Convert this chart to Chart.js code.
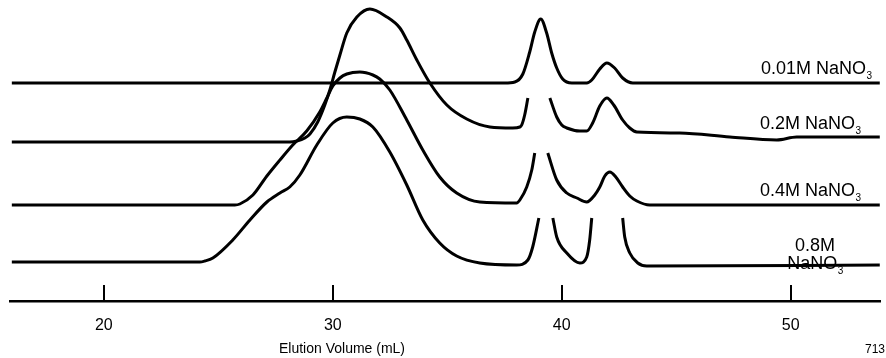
<!DOCTYPE html>
<html>
<head>
<meta charset="utf-8">
<script src="https://cdn.jsdelivr.net/npm/chart.js@4.4.1/dist/chart.umd.min.js"></script>
<style>
  html, body { margin: 0; padding: 0; background: #fff; }
</style>
</head>
<body>
<canvas id="gpc" width="886" height="358"></canvas>
<script>
// elution volume (mL) and detector response (arbitrary, stacked offsets)
// null = trace runs off the top of its lane (peak clipped)
const vol001  = [15.98, 37.51, 37.95, 38.30, 38.60, 38.82, 39.08, 39.34, 39.56, 39.78, 40.04, 40.44, 41.09, 41.31, 41.66, 41.97, 42.31, 42.66, 43.10, 43.62, 53.89];
const resp001 = [21.8, 21.8, 21.9, 22.7, 24.9, 26.9, 28.2, 26.8, 24.8, 23.3, 22.2, 21.8, 21.8, 22.1, 23.2, 23.8, 23.3, 22.3, 21.8, 21.8, 21.8];

const vol02  = [15.98, 28.12, 28.43, 28.78, 29.00, 29.34, 29.65, 29.87, 30.09, 30.31, 30.61, 31.05, 31.62, 32.36, 32.93, 33.23, 33.67, 34.24, 34.98, 35.85, 36.86, 37.86, 38.17, 38.25, 38.38, 38.52, 38.90, 39.48, 39.78, 40.00, 40.22, 40.79, 41.09, 41.35, 41.66, 41.97, 42.27, 42.66, 42.97, 43.28, 45.15, 47.34, 49.39, 50.26, 53.89];
const resp02 = [15.9, 15.9, 16.0, 16.3, 16.7, 17.9, 19.6, 21.1, 22.9, 24.6, 26.8, 28.4, 29.2, 28.4, 27.3, 26.1, 24.1, 21.8, 19.6, 18.2, 17.4, 17.3, 17.4, 17.6, 18.6, 20.3, null, 20.3, 18.4, 17.6, 17.3, 17.0, 17.0, 17.8, 19.5, 20.3, 19.6, 18.1, 17.3, 16.9, 16.8, 16.4, 16.1, 16.4, 16.4];

const vol04  = [15.98, 25.72, 25.94, 26.51, 27.12, 27.69, 28.25, 28.86, 29.43, 29.74, 30.00, 30.31, 30.61, 31.18, 31.75, 32.05, 32.49, 33.23, 33.93, 34.67, 35.41, 36.42, 38.03, 38.17, 38.47, 38.69, 38.82, 39.10, 39.39, 39.78, 40.22, 40.66, 41.09, 41.44, 41.66, 41.88, 42.10, 42.36, 42.66, 42.97, 43.28, 43.84, 53.89];
const resp04 = [9.6, 9.6, 9.7, 10.6, 12.5, 14.1, 15.6, 17.0, 18.9, 20.3, 21.5, 22.3, 22.7, 22.9, 22.6, 22.2, 21.1, 18.1, 15.1, 12.4, 10.8, 9.9, 9.8, 10.1, 11.4, 13.1, 14.8, null, 14.8, 12.1, 10.8, 10.3, 9.9, 10.6, 11.4, 12.5, 12.9, 12.4, 11.4, 10.5, 10.0, 9.6, 9.6];

const vol08  = [15.98, 24.19, 24.41, 24.76, 25.63, 26.38, 27.12, 27.69, 28.12, 28.56, 29.30, 30.00, 30.61, 31.18, 31.75, 32.49, 33.23, 33.93, 34.67, 35.41, 36.42, 38.03, 38.52, 38.73, 39.00, 39.30, 39.61, 39.78, 40.22, 40.79, 41.09, 41.22, 41.31, 42.00, 42.66, 42.75, 42.97, 43.32, 43.71, 53.89];
const resp08 = [3.9, 3.9, 4.0, 4.3, 6.1, 8.1, 9.9, 10.8, 11.4, 12.6, 15.6, 17.8, 18.4, 18.2, 17.4, 14.9, 11.6, 8.1, 5.8, 4.5, 3.8, 3.6, 4.1, 5.4, 8.3, null, 8.3, 6.4, 4.8, 3.8, 4.4, 6.1, 8.3, null, 8.3, 6.4, 4.8, 3.8, 3.5, 3.6];

const traceNames = ['0.01M NaNO', '0.2M NaNO', '0.4M NaNO', '0.8M NaNO'];
const tickVals = [20, 30, 40, 50];
const axisTitle = 'Elution Volume (mL)';
const figNo = '713';

const FONT = '"Liberation Sans", Arial, Helvetica, sans-serif';

function toPts(xs, ys) {
    return xs.map((v, i) => ({ x: v, y: ys[i] }));
}

// draws "NaNO" with a subscript 3
function chem(ctx, main, x, y, align) {
    ctx.font = '18px ' + FONT;
    const w = ctx.measureText(main).width;
    ctx.font = '10px ' + FONT;
    const ws = ctx.measureText('3').width;
    let x0 = x;
    if (align === 'center') x0 = x - (w + ws) / 2;
    ctx.textAlign = 'left';
    ctx.font = '18px ' + FONT;
    ctx.fillText(main, x0, y);
    ctx.font = '10px ' + FONT;
    ctx.fillText('3', x0 + w + 0.5, y + 5);
}

const decorations = {
    id: 'decorations',
    afterDraw(chart) {
        const { ctx, chartArea } = chart;
        const xs = chart.scales.x;
        const yb = chartArea.bottom;
        ctx.save();
        // inward tick marks
        ctx.strokeStyle = '#000';
        ctx.lineWidth = 2;
        tickVals.forEach(v => {
            const px = Math.round(xs.getPixelForValue(v));
            ctx.beginPath();
            ctx.moveTo(px, yb - 16);
            ctx.lineTo(px, yb);
            ctx.stroke();
        });
        ctx.fillStyle = '#000';
        ctx.textBaseline = 'alphabetic';
        // axis title (sits under the 30 tick, not the axis centre)
        ctx.font = '14px ' + FONT;
        ctx.textAlign = 'center';
        ctx.fillText(axisTitle, 342, 353);
        ctx.font = '12px ' + FONT;
        ctx.textAlign = 'right';
        ctx.fillText(figNo, 885, 353);
        // trace labels
        chem(ctx, traceNames[0], 761, 74, 'left');
        chem(ctx, traceNames[1], 760, 129, 'left');
        chem(ctx, traceNames[2], 760, 196, 'left');
        ctx.font = '18px ' + FONT;
        ctx.textAlign = 'center';
        ctx.fillText(traceNames[3].split(' ')[0], 815, 251);
        chem(ctx, traceNames[3].split(' ')[1], 815, 269, 'center');
        ctx.restore();
    }
};

const lineStyle = { borderColor: '#000', borderWidth: 3, pointRadius: 0, cubicInterpolationMode: 'monotone', spanGaps: false, fill: false };

new Chart(document.getElementById('gpc'), {
    type: 'line',
    data: {
        datasets: [
            { label: traceNames[0], data: toPts(vol001, resp001), ...lineStyle },
            { label: traceNames[1], data: toPts(vol02, resp02), ...lineStyle },
            { label: traceNames[2], data: toPts(vol04, resp04), ...lineStyle },
            { label: traceNames[3], data: toPts(vol08, resp08), ...lineStyle }
        ]
    },
    options: {
        responsive: false,
        animation: false,
        layout: { padding: { left: 10, right: 6, top: 0, bottom: 0 } },
        plugins: { legend: { display: false }, tooltip: { enabled: false } },
        scales: {
            x: {
                type: 'linear',
                min: 15.9, max: 53.9,
                afterBuildTicks: s => { s.ticks = tickVals.map(v => ({ value: v })); },
                afterFit: s => { s.height = 57; },
                grid: { display: false },
                border: { display: true, color: '#000', width: 2.5 },
                ticks: { color: '#000', padding: 7, maxRotation: 0, font: { size: 16, family: FONT } }
            },
            y: { type: 'linear', display: false, min: 0, max: 30.1 }
        }
    },
    plugins: [decorations]
});
</script>
</body>
</html>
